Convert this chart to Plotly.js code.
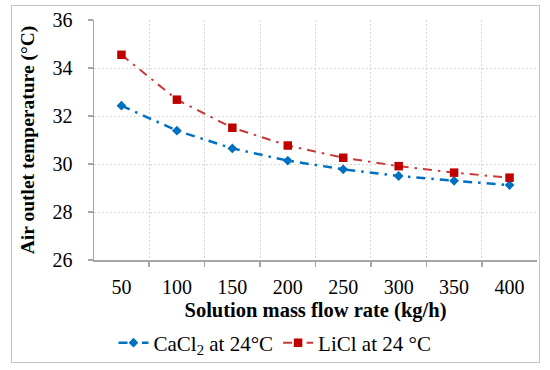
<!DOCTYPE html>
<html>
<head>
<meta charset="utf-8">
<script src="https://cdn.plot.ly/plotly-3.0.1.min.js"></script>
<style>
  html, body { margin: 0; padding: 0; background: #fff; }
  #wrap { position: relative; width: 550px; height: 370px; }
  #chart { width: 550px; height: 370px; }
  #frame { position: absolute; left: 11px; top: 5px; width: 527px; height: 356px;
           border: 1.5px solid #c4c4c4; pointer-events: none; }
</style>
</head>
<body>
<div id="wrap">
  <div id="chart"></div>
  <div id="frame"></div>
</div>
<script>
const flowRates = ["50", "100", "150", "200", "250", "300", "350", "400"];
const cacl2Temp = [32.43, 31.39, 30.65, 30.14, 29.78, 29.50, 29.30, 29.12];
const liclTemp  = [34.55, 32.68, 31.51, 30.77, 30.26, 29.91, 29.64, 29.43];
const yTicks = [26, 28, 30, 32, 34, 36];

const serif = "Liberation Serif, Times New Roman, serif";

const traces = [
  {
    x: flowRates, y: cacl2Temp, type: "scatter", mode: "lines+markers",
    name: "CaCl<sub>2</sub> at 24°C",
    line: { color: "#0070C0", width: 2.5, dash: "9px,6px,2.5px,6px" },
    marker: { symbol: "diamond", size: 7.5, color: "#0070C0" }
  },
  {
    x: flowRates, y: liclTemp, type: "scatter", mode: "lines+markers",
    name: "LiCl at 24 °C",
    line: { color: "#C8383A", width: 2, dash: "9px,6px,2.5px,6px" },
    marker: { symbol: "square", size: 8.5, color: "#C00000" }
  }
];

const layout = {
  width: 550, height: 370,
  margin: { l: 94, r: 13, t: 20, b: 110 },
  paper_bgcolor: "#fff", plot_bgcolor: "#fff",
  font: { family: serif, color: "#000", size: 20 },
  showlegend: true,
  legend: {
    orientation: "h", xref: "container", yref: "container",
    x: 0.5, xanchor: "center", y: 0.073, yanchor: "middle",
    font: { family: serif, size: 21, color: "#000" },
    itemwidth: 30, tracegroupgap: 0
  },
  xaxis: {
    type: "category",
    tickson: "boundaries",
    showline: true, linecolor: "#a6a6a6", linewidth: 1.5,
    ticks: "outside", ticklen: 5, tickcolor: "#a6a6a6", tickwidth: 1.5,
    ticklabelstandoff: 8,
    showgrid: true, gridcolor: "#d6d6d6", gridwidth: 1, griddash: "2px,2px",
    tickfont: { family: serif, size: 20, color: "#000" },
    title: { text: "<b>Solution mass flow rate (kg/h)</b>", font: { family: serif, size: 20.5, color: "#000" }, standoff: 6 },
    zeroline: false, mirror: false
  },
  yaxis: {
    range: [26, 36], tickvals: yTicks, ticktext: yTicks.map(String),
    showline: true, linecolor: "#a6a6a6", linewidth: 1.5,
    ticks: "outside", ticklen: 5, tickcolor: "#a6a6a6", tickwidth: 1.5,
    ticklabelstandoff: 11,
    showgrid: true, gridcolor: "#d6d6d6", gridwidth: 1, griddash: "2px,2px",
    tickfont: { family: serif, size: 20, color: "#000" },
    title: { text: "<b>Air outlet temperature (°C)</b>", font: { family: serif, size: 19.5, color: "#000" }, standoff: 12 },
    zeroline: false
  }
};

Plotly.newPlot("chart", traces, layout, { staticPlot: true, displayModeBar: false });
</script>
</body>
</html>
